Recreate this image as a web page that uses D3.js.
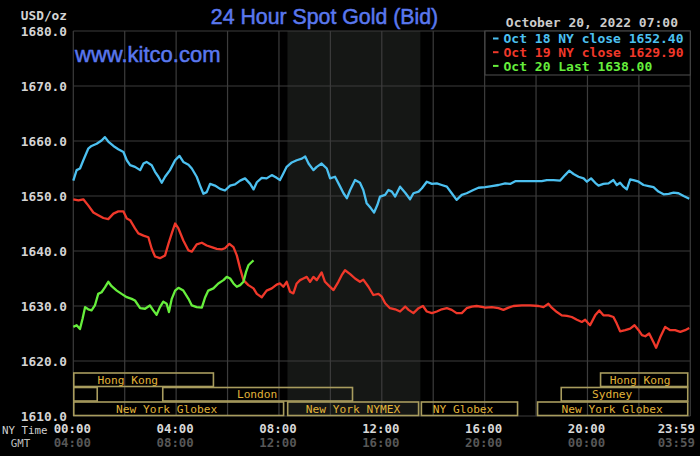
<!DOCTYPE html>
<html>
<head>
<meta charset="utf-8">
<script src="https://cdn.jsdelivr.net/npm/d3@7"></script>
<style>
  html, body { margin: 0; padding: 0; background: #000; }
  svg { display: block; }
  .mono { font-family: "DejaVu Sans Mono", monospace; }
</style>
</head>
<body>
<svg id="chart" width="700" height="456"></svg>
<script>
// ---- data (hours since 00:00 NY time, price USD/oz) ----
const oct18Hours = [0.00,0.13,0.26,0.39,0.58,0.71,0.91,1.10,1.23,1.36,1.56,1.75,1.95,2.08,2.21,2.40,2.60,2.73,2.85,3.05,
  3.18,3.31,3.44,3.57,3.76,3.96,4.13,4.28,4.48,4.61,4.80,4.93,5.06,5.19,5.32,5.51,5.71,5.90,6.10,6.29,
  6.49,6.68,6.88,7.01,7.14,7.33,7.52,7.72,7.91,
  8.04,8.17,8.30,8.50,8.69,8.89,9.02,9.15,9.34,9.47,9.66,9.86,9.99,10.18,10.38,10.51,10.64,10.77,10.96,11.15,
  11.28,11.41,11.57,11.70,11.83,11.93,12.13,12.26,12.39,12.52,12.71,12.91,13.10,13.23,13.43,13.56,13.75,13.95,14.14,14.33,
  14.53,14.72,14.91,15.11,15.30,15.56,15.76,
  16.02,16.28,16.54,16.80,16.99,17.19,17.45,17.71,17.96,18.22,18.42,18.68,18.94,19.13,19.29,19.46,19.65,19.85,19.98,20.14,
  20.30,20.43,20.62,20.82,21.01,21.14,21.27,21.40,21.53,21.66,21.79,21.99,22.18,22.38,22.57,22.76,22.96,23.16,23.35,23.54,
  23.74,23.96]
const oct18Prices = [1652.8,1654.7,1655.0,1656.5,1658.6,1659.1,1659.5,1660.1,1660.7,1659.9,1659.1,1658.5,1658.0,1656.5,1655.6,1655.3,1654.7,1655.9,1656.2,1655.6,
  1654.4,1653.5,1652.4,1653.5,1654.7,1656.5,1657.3,1656.2,1655.7,1655.0,1653.5,1651.9,1650.4,1650.7,1652.2,1651.9,1651.3,1651.0,1651.9,1652.1,
  1652.8,1653.2,1652.2,1651.2,1652.5,1653.3,1653.2,1653.8,1653.3,
  1652.9,1654.1,1655.3,1656.1,1656.5,1656.8,1657.2,1655.9,1654.7,1655.3,1655.9,1655.0,1653.2,1653.5,1651.7,1650.5,1649.6,1651.1,1652.9,1652.4,
  1651.1,1648.7,1647.8,1647.0,1648.4,1649.9,1650.2,1651.1,1650.8,1649.9,1651.7,1650.6,1649.4,1650.5,1650.8,1651.4,1652.6,1652.2,1652.3,1652.0,
  1651.7,1650.5,1649.3,1650.2,1650.5,1651.1,1651.5,
  1651.6,1651.8,1652.0,1652.3,1652.2,1652.7,1652.7,1652.7,1652.7,1652.7,1652.9,1652.9,1652.8,1653.8,1654.6,1654.0,1653.5,1653.2,1652.6,1653.2,
  1652.4,1651.9,1652.2,1652.3,1652.9,1652.0,1652.4,1651.7,1651.2,1653.0,1652.9,1652.6,1652.0,1651.8,1651.6,1650.8,1650.3,1650.4,1650.6,1650.5,
  1650.0,1649.5]

const oct19Hours = [0.00,0.20,0.39,0.58,0.78,0.97,1.17,1.36,1.56,1.75,1.95,2.08,2.21,2.40,2.53,2.73,2.92,3.05,3.18,3.37,
  3.57,3.70,3.83,3.96,4.09,4.28,4.48,4.61,4.80,5.00,5.19,5.38,5.58,5.77,5.90,6.07,6.23,6.36,6.49,6.62,
  6.81,7.01,7.14,7.33,7.52,7.72,7.91,
  8.04,8.17,8.30,8.43,8.56,8.69,8.82,8.95,9.08,9.21,9.34,9.47,9.66,9.79,9.92,10.12,10.31,10.44,10.57,10.77,
  10.96,11.15,11.28,11.48,11.67,11.87,12.00,12.13,12.32,12.52,12.71,12.91,13.04,13.23,13.43,13.60,13.75,13.95,14.14,14.33,
  14.53,14.72,14.91,15.11,15.30,15.50,15.69,15.95,
  16.02,16.28,16.54,16.73,16.93,17.12,17.45,17.77,18.10,18.29,18.48,18.61,18.81,19.00,19.20,19.39,19.59,19.78,19.91,20.10,
  20.30,20.46,20.62,20.82,21.01,21.14,21.27,21.47,21.66,21.83,21.99,22.12,22.25,22.40,22.57,22.67,22.83,23.02,23.22,23.41,
  23.61,23.80,23.96]
const oct19Prices = [1649.4,1649.2,1649.4,1648.3,1647.0,1646.5,1646.0,1645.8,1646.8,1647.2,1647.2,1645.9,1645.6,1644.1,1643.2,1642.8,1642.5,1640.4,1639.0,1638.7,
  1639.2,1641.3,1643.2,1645.0,1644.1,1641.9,1640.1,1639.9,1641.2,1641.5,1641.0,1640.7,1640.4,1640.3,1640.5,1641.3,1640.7,1639.2,1636.8,1634.7,
  1633.8,1633.2,1632.2,1631.6,1632.8,1633.2,1633.9,
  1634.1,1633.5,1634.4,1632.6,1632.3,1634.1,1634.7,1635.0,1635.3,1634.4,1635.3,1634.7,1636.1,1634.4,1633.8,1632.9,1634.4,1635.6,1636.5,1635.8,
  1635.0,1634.4,1634.8,1633.5,1632.0,1632.2,1631.7,1630.5,1629.6,1629.4,1629.0,1629.9,1629.3,1628.7,1629.6,1630.0,1629.0,1628.7,1629.0,1629.4,
  1629.6,1629.3,1628.7,1628.7,1629.6,1629.9,1630.0,1629.8,
  1629.7,1629.8,1629.6,1629.3,1629.7,1630.0,1630.1,1630.1,1630.0,1629.8,1630.4,1629.7,1628.9,1628.3,1628.2,1628.0,1627.5,1627.1,1627.5,1626.5,
  1628.3,1629.2,1628.3,1628.3,1628.0,1626.8,1625.4,1625.6,1625.9,1626.5,1625.6,1624.7,1624.5,1625.0,1623.4,1622.4,1624.3,1626.2,1625.6,1625.6,
  1625.3,1625.6,1626.0]

const oct20Hours = [0.00,0.13,0.26,0.36,0.46,0.58,0.71,0.84,0.97,1.10,1.23,1.36,1.49,1.69,1.88,2.08,2.27,2.40,2.60,2.79,
  2.98,3.11,3.24,3.37,3.50,3.63,3.72,3.83,3.96,4.09,4.28,4.48,4.61,4.80,5.00,5.13,5.25,5.45,5.64,5.84,
  5.97,6.10,6.23,6.36,6.49,6.62,6.72,6.81,6.94,7.01]
const oct20Prices = [1626.2,1626.5,1625.8,1627.7,1629.8,1629.4,1629.2,1630.1,1632.2,1632.5,1633.4,1634.4,1633.6,1632.8,1632.2,1631.6,1631.3,1631.0,1629.6,1629.5,
  1630.1,1629.2,1628.4,1629.8,1630.8,1630.4,1628.9,1631.3,1632.8,1633.3,1632.8,1631.3,1630.1,1629.8,1629.7,1631.6,1632.8,1633.2,1634.1,1634.7,
  1635.3,1635.0,1634.1,1633.5,1633.8,1634.4,1636.2,1637.4,1638.0,1638.3]

const seriesNames = ['Oct 18 NY close 1652.40', 'Oct 19 NY close 1629.90', 'Oct 20 Last 1638.00']
const seriesColors = ['#4cc0f0', '#f0382a', '#66ee3c']

const priceTicks = [1610, 1620, 1630, 1640, 1650, 1660, 1670, 1680]
const hourTicks = [0, 4, 8, 12, 16, 20, 24]
const nyTimeLabels = ['00:00', '04:00', '08:00', '12:00', '16:00', '20:00', '23:59']
const gmtLabels = ['04:00', '08:00', '12:00', '16:00', '20:00', '00:00', '03:59']

// trading sessions: [start, end, row, label, label centre] in hours
const sessions = [
  [0, 5.47, 0, 'Hong Kong', 2.12],
  [20.49, 23.92, 0, 'Hong Kong', 22.05],
  [0, 0.95, 1, '', 0],
  [3.46, 10.88, 1, 'London', 7.15],
  [18.96, 23.92, 1, 'Sydney', 20.96],
  [0, 8.2, 2, 'New York Globex', 3.63],
  [8.32, 13.45, 2, 'New York NYMEX', 10.88],
  [13.52, 17.3, 2, 'NY Globex', 15.16],
  [18.04, 23.92, 2, 'New York Globex', 20.96]
]
const nymexHours = [8.33, 13.5]

// ---- layout ----
const plotLeft = 73.3, plotRight = 690.3, plotTop = 31, plotBottom = 416
const rowH = 14.5

const svg = d3.select('#chart')
svg.append('rect').attr('width', 700).attr('height', 456).attr('fill', '#000')

const x = d3.scaleLinear().domain([0, 24]).range([plotLeft, plotRight])
const y = d3.scaleLinear().domain([1610, 1680]).range([plotBottom, plotTop])

// NYMEX shade
svg.append('rect')
  .attr('x', x(nymexHours[0]))
  .attr('y', plotTop)
  .attr('width', x(nymexHours[1]) - x(nymexHours[0]))
  .attr('height', plotBottom - plotTop)
  .attr('fill', '#151715')

// grid
const grid = svg.append('g').attr('stroke', '#3c3c3c').attr('stroke-width', 1.2)
grid.selectAll('line.h')
  .data(priceTicks)
  .enter().append('line')
  .attr('class', 'h')
  .attr('x1', plotLeft).attr('x2', plotRight)
  .attr('y1', d => y(d)).attr('y2', d => y(d))
grid.selectAll('line.v')
  .data(d3.range(0, 25, 2))
  .enter().append('line')
  .attr('class', 'v')
  .attr('x1', d => x(d)).attr('x2', d => x(d))
  .attr('y1', plotTop).attr('y2', plotBottom)

// sessions
const sess = svg.append('g')
sess.selectAll('rect')
  .data(sessions)
  .enter().append('rect')
  .attr('x', d => x(d[0]) + 0.5)
  .attr('y', d => plotBottom - rowH * (3 - d[2]) + 0.5)
  .attr('width', d => x(d[1]) - x(d[0]) - 1)
  .attr('height', rowH - 1)
  .attr('fill', 'none')
  .attr('stroke', '#a89c5e')
  .attr('stroke-width', 1.6)
sess.selectAll('text')
  .data(sessions.filter(d => d[3]))
  .enter().append('text')
  .attr('class', 'mono')
  .attr('x', d => x(d[4]))
  .attr('y', d => plotBottom - rowH * (3 - d[2]) + rowH / 2 + 4)
  .attr('text-anchor', 'middle')
  .attr('font-size', 11.2)
  .attr('fill', '#e2b43a')
  .text(d => d[3])

// lines
const line = d3.line()
  .x(d => x(d[0]))
  .y(d => y(d[1]))
const seriesData = [
  d3.zip(oct18Hours, oct18Prices),
  d3.zip(oct19Hours, oct19Prices),
  d3.zip(oct20Hours, oct20Prices)
]
svg.append('g')
  .selectAll('path')
  .data(seriesData)
  .enter().append('path')
  .attr('d', line)
  .attr('fill', 'none')
  .attr('stroke', (d, i) => seriesColors[i])
  .attr('stroke-width', 2.3)
  .attr('stroke-linejoin', 'round')

// y axis labels
svg.append('g')
  .selectAll('text')
  .data(priceTicks)
  .enter().append('text')
  .attr('class', 'mono')
  .attr('x', 67)
  .attr('y', d => y(d) + 4.5)
  .attr('text-anchor', 'end')
  .attr('font-size', 12.8)
  .attr('font-weight', 'bold')
  .attr('fill', '#d4d4d4')
  .text(d => d.toFixed(1))

svg.append('text')
  .attr('class', 'mono')
  .attr('x', 67).attr('y', 19.5)
  .attr('text-anchor', 'end')
  .attr('font-size', 12.8)
  .attr('font-weight', 'bold')
  .attr('fill', '#d4d4d4')
  .text('USD/oz')

// x axis labels
function tickX(d, i) {
  return i === hourTicks.length - 1 ? x(d) - 14 : x(d) - 1
}
svg.append('g')
  .selectAll('text')
  .data(hourTicks)
  .enter().append('text')
  .attr('class', 'mono')
  .attr('x', tickX)
  .attr('y', 433)
  .attr('text-anchor', 'middle')
  .attr('font-size', 12.4)
  .attr('font-weight', 'bold')
  .attr('fill', '#d8d8d8')
  .text((d, i) => nyTimeLabels[i])
svg.append('g')
  .selectAll('text')
  .data(hourTicks)
  .enter().append('text')
  .attr('class', 'mono')
  .attr('x', tickX)
  .attr('y', 447)
  .attr('text-anchor', 'middle')
  .attr('font-size', 12.4)
  .attr('font-weight', 'bold')
  .attr('fill', '#575757')
  .text((d, i) => gmtLabels[i])

svg.append('text')
  .attr('class', 'mono')
  .attr('x', 47.5).attr('y', 433.5)
  .attr('text-anchor', 'end')
  .attr('font-size', 10.8)
  .attr('fill', '#cfcfcf')
  .text('NY Time')
svg.append('text')
  .attr('class', 'mono')
  .attr('x', 20.5).attr('y', 446.5)
  .attr('text-anchor', 'middle')
  .attr('font-size', 10.8)
  .attr('fill', '#bdbdbd')
  .text('GMT')

// titles
svg.append('text')
  .attr('x', 324.5).attr('y', 23.5)
  .attr('text-anchor', 'middle')
  .attr('font-family', '"Liberation Sans", Arial, sans-serif')
  .attr('font-size', 21.3)
  .attr('fill', '#5a78ee')
  .attr('stroke', '#5a78ee')
  .attr('stroke-width', 0.5)
  .text('24 Hour Spot Gold (Bid)')
svg.append('text')
  .attr('x', 75).attr('y', 62)
  .attr('font-family', '"Liberation Sans", Arial, sans-serif')
  .attr('font-size', 22)
  .attr('fill', '#5a78ee')
  .attr('stroke', '#5a78ee')
  .attr('stroke-width', 0.5)
  .text('www.kitco.com')
svg.append('text')
  .attr('class', 'mono')
  .attr('x', 678).attr('y', 27)
  .attr('text-anchor', 'end')
  .attr('font-size', 13)
  .attr('font-weight', 'bold')
  .attr('fill', '#cccccc')
  .text('October 20, 2022 07:00')

// legend
const legend = svg.append('g').attr('transform', 'translate(485,31)')
legend.append('rect')
  .attr('width', plotRight - 485).attr('height', 44)
  .attr('fill', '#000')
  .attr('stroke', '#444')
  .attr('stroke-width', 1.2)
const items = legend.selectAll('g')
  .data(seriesNames)
  .enter().append('g')
  .attr('transform', (d, i) => `translate(0,${7.5 + i * 13.7})`)
items.append('line')
  .attr('x1', 8).attr('x2', 13.5)
  .attr('stroke', (d, i) => seriesColors[i])
  .attr('stroke-width', 2)
items.append('text')
  .attr('class', 'mono')
  .attr('x', 18.5).attr('y', 4.6)
  .attr('font-size', 13)
  .attr('font-weight', 'bold')
  .attr('fill', (d, i) => seriesColors[i])
  .text(d => d)
</script>
</body>
</html>
